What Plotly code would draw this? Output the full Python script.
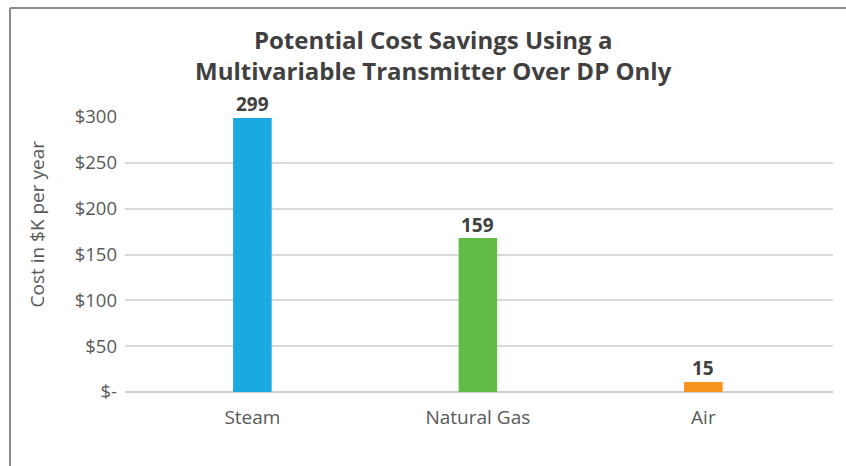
import plotly.graph_objects as go

categories = ["Steam", "Natural Gas", "Air"]
bar_values = [299, 168, 11]          # bar heights as drawn in the picture
label_values = ["299", "159", "15"]  # data labels printed above the bars
colors = ["#1AA9E1", "#62BB46", "#F7941D"]
tick_vals = [0, 50, 100, 150, 200, 250, 300]
tick_text = ["$-", "$50", "$100", "$150", "$200", "$250", "$300"]

W, H = 846, 466
L, R, T, B = 125, 13, 117, 74
pw = W - L - R
ph = H - T - B


def px_x(x):
    return (x - L) / pw


def px_y(y):
    return (H - B - y) / ph


xs = [0, 1, 2]

fig = go.Figure(go.Bar(
    x=xs,
    y=bar_values,
    width=0.171,
    marker=dict(color=colors, line=dict(width=0)),
    cliponaxis=False,
    hoverinfo="skip",
))

fig.update_layout(
    width=W, height=H,
    margin=dict(l=L, r=R, t=T, b=B),
    paper_bgcolor="white",
    plot_bgcolor="white",
    showlegend=False,
    font=dict(family="Open Sans", color="#595959"),
    xaxis=dict(
        range=[-0.565, 2.575],
        tickmode="array", tickvals=xs, ticktext=categories,
        tickfont=dict(size=19, color="#595959"),
        showgrid=False, zeroline=False, showline=False, ticks="",
        ticklabelstandoff=12,
        fixedrange=True,
    ),
    yaxis=dict(
        range=[0, 300],
        tickmode="array", tickvals=tick_vals, ticktext=tick_text,
        tickfont=dict(size=18.5, color="#595959"),
        showgrid=True, gridcolor="#D9D9D9", gridwidth=1.5,
        zeroline=True, zerolinecolor="#D0D0D0", zerolinewidth=1.5,
        ticks="", ticklabelstandoff=7,
        fixedrange=True,
    ),
)

# data labels above the bars
for xv, yv, lab in zip(xs, bar_values, label_values):
    fig.add_annotation(
        x=xv, y=yv, text=lab, xref="x", yref="y",
        xanchor="center", yanchor="bottom", yshift=-1.5, showarrow=False,
        font=dict(family="Open Sans", size=19, color="#404040", weight="bold"),
    )

fig.add_annotation(
    text="Potential Cost Savings Using a<br>Multivariable Transmitter Over DP Only",
    xref="paper", yref="paper", x=px_x(433.5), y=px_y(55),
    xanchor="center", yanchor="middle", showarrow=False,
    font=dict(family="Open Sans", size=24, color="#404040", weight="bold"),
)
fig.add_annotation(
    text="Cost in $K per year",
    xref="paper", yref="paper", x=px_x(36.5), y=px_y(224),
    xanchor="center", yanchor="middle", textangle=-90, showarrow=False,
    font=dict(family="Open Sans", size=19, color="#595959"),
)

# outer frame (left and top edges visible)
fig.add_shape(type="line", xref="paper", yref="paper", x0=px_x(10), x1=px_x(W + 5),
              y0=px_y(8), y1=px_y(8), line=dict(color="#8C8C8C", width=2))
fig.add_shape(type="line", xref="paper", yref="paper", x0=px_x(10), x1=px_x(10),
              y0=px_y(8), y1=px_y(H + 5), line=dict(color="#8C8C8C", width=2))

fig.write_html("out.html", config={"displayModeBar": False},
               post_script="document.body.style.margin='0';")
